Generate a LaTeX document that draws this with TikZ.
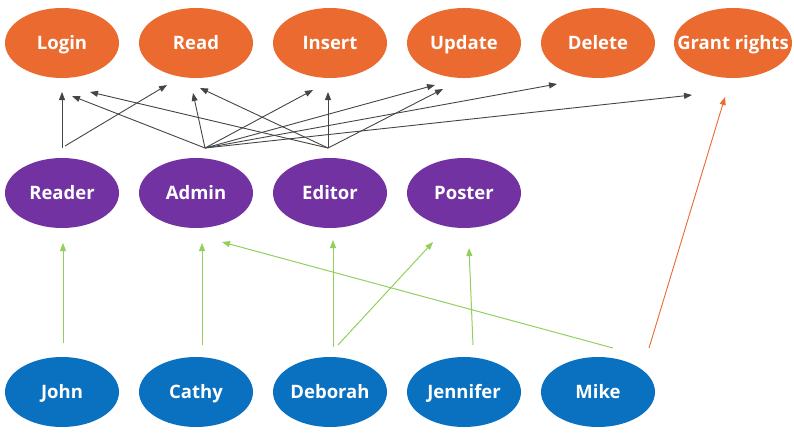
\documentclass[tikz,border=0pt]{standalone}
\usepackage{fontspec}
\setmainfont{Open Sans}
\usetikzlibrary{arrows.meta,shapes.geometric}
\definecolor{rOrange}{HTML}{EA6A2F}
\definecolor{rPurple}{HTML}{7232A1}
\definecolor{rBlue}{HTML}{0A70C0}
\definecolor{rGreen}{HTML}{93CF5C}
\definecolor{rGray}{HTML}{454545}
\begin{document}
\begin{tikzpicture}[x=1pt,y=-1pt,
  blob/.style={ellipse, text=white, font=\bfseries\fontsize{18.5}{20}\selectfont,
    minimum width=114pt, minimum height=70pt, inner sep=0pt,
    text height=13pt, text depth=0pt},
  perm/.style={blob, fill=rOrange},
  role/.style={blob, fill=rPurple},
  user/.style={blob, fill=rBlue},
  blk/.style={draw=rGray, line width=0.9pt, -{Triangle[length=8pt,width=6pt]}},
  grn/.style={draw=rGreen, line width=1pt, -{Triangle[length=8pt,width=6pt]}},
  org/.style={draw=rOrange, line width=0.9pt, -{Triangle[length=8pt,width=6pt]}}]
\useasboundingbox (0,0) rectangle (794,434);
% permissions
\node[perm] (login)  at (62,43)  {Login};
\node[perm] (read)   at (196,43) {Read};
\node[perm] (insert) at (330,43) {Insert};
\node[perm] (update) at (464,43) {Update};
\node[perm] (delete) at (598,43) {Delete};
\node[perm, minimum width=118pt, inner xsep=-15pt] (grant) at (733,43) {Grant rights};
% roles
\node[role] (reader) at (62,193)  {Reader};
\node[role] (admin)  at (196,193) {Admin};
\node[role] (editor) at (330,193) {Editor};
\node[role] (poster) at (464,193) {Poster};
% users
\node[user] (john)     at (62,392)  {John};
\node[user] (cathy)    at (196,392) {Cathy};
\node[user] (deborah)  at (330,392) {Deborah};
\node[user] (jennifer) at (464,392) {Jennifer};
\node[user] (mike)     at (598,392) {Mike};
% connector end points
\coordinate (readerA) at (62,148);
\coordinate (readerB) at (65,146);
\coordinate (adminO)  at (205,148);
\coordinate (editorO) at (328,148);
\coordinate (loginA) at (62,92);
\coordinate (loginB) at (72,96);
\coordinate (loginC) at (90,92);
\coordinate (readA)  at (167,85);
\coordinate (readB)  at (193,93);
\coordinate (readC)  at (200,88);
\coordinate (insertA) at (313,90);
\coordinate (insertB) at (328,92);
\coordinate (updateA) at (435,85);
\coordinate (updateB) at (443,89);
\coordinate (deleteA) at (557,84);
\coordinate (grantA)  at (692,95);
\coordinate (grantB)  at (725,97);
\coordinate (johnO)   at (63,343);
\coordinate (cathyO)  at (202,345);
\coordinate (deborahA) at (333,347);
\coordinate (deborahB) at (338,345);
\coordinate (jenniferO) at (473,345);
\coordinate (mikeA) at (613,348);
\coordinate (mikeB) at (649,348);
\coordinate (readerIn) at (63,243);
\coordinate (adminIn)  at (202,243);
\coordinate (adminIn2) at (222,242);
\coordinate (editorIn) at (333,240);
\coordinate (posterA)  at (433,242);
\coordinate (posterB)  at (469,248);
% role -> permission
\draw[blk] (readerA) -- (loginA);
\draw[blk] (readerB) -- (readA);
\draw[blk] (adminO) -- (loginB);
\draw[blk] (editorO) -- (loginC);
\draw[blk] (adminO) -- (readB);
\draw[blk] (editorO) -- (readC);
\draw[blk] (adminO) -- (insertA);
\draw[blk] (editorO) -- (insertB);
\draw[blk] (adminO) -- (updateA);
\draw[blk] (editorO) -- (updateB);
\draw[blk] (adminO) -- (deleteA);
\draw[blk] (adminO) -- (grantA);
% user -> role
\draw[grn] (johnO) -- (readerIn);
\draw[grn] (cathyO) -- (adminIn);
\draw[grn] (deborahA) -- (editorIn);
\draw[grn] (deborahB) -- (posterA);
\draw[grn] (jenniferO) -- (posterB);
\draw[grn] (mikeA) -- (adminIn2);
\draw[org] (mikeB) -- (grantB);
\end{tikzpicture}
\end{document}
